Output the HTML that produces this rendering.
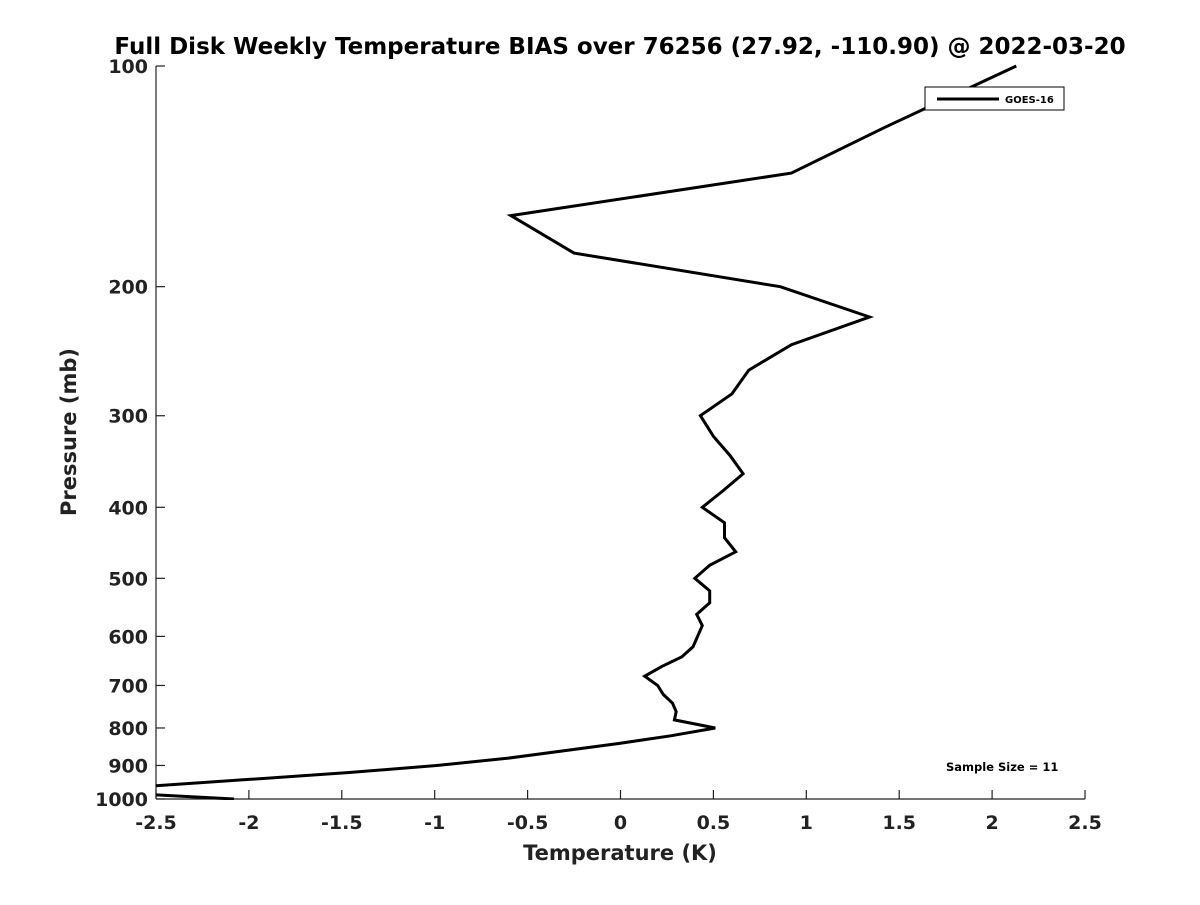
<!DOCTYPE html>
<html><head><meta charset="utf-8"><style>
body{margin:0;background:#fff;}
svg text{font-family:"DejaVu Sans","Liberation Sans",sans-serif;font-weight:bold;}
</style></head><body>
<svg id="chart" width="1200" height="900" xmlns="http://www.w3.org/2000/svg">
<rect width="1200" height="900" fill="#fff"/>
<text x="620" y="54" font-size="23" text-anchor="middle" fill="#000">Full Disk Weekly Temperature BIAS over 76256 (27.92, -110.90) @ 2022-03-20</text>
<g id="axes"></g>
<clipPath id="plotclip"><rect x="156" y="60" width="929" height="740"/></clipPath>
<path id="line" fill="none" stroke="#000" stroke-width="3" stroke-linejoin="miter" clip-path="url(#plotclip)"/>
<text x="620" y="860" font-size="21" text-anchor="middle" fill="#222">Temperature (K)</text>
<text transform="translate(76,432) rotate(-90)" font-size="21" text-anchor="middle" fill="#222">Pressure (mb)</text>
<g>
<rect x="925" y="87" width="139" height="23" fill="#fff" stroke="#000" stroke-width="1"/>
<line x1="937" y1="99" x2="999" y2="99" stroke="#000" stroke-width="3"/>
<text x="1005" y="103" font-size="10" fill="#000">GOES-16</text>
</g>
<text x="946" y="771" font-size="11.5" fill="#000">Sample Size = 11</text>
</svg>
<script>
const pressures=[100,121,140,160,180,200,220,240,260,280,300,320,340,360,380,400,420,440,460,480,500,520,540,560,580,620,640,660,680,700,720,740,760,780,800,820,840,880,900,920,940,975,1000];
const biasValues=[2.13,1.43,0.92,-0.59,-0.25,0.86,1.34,0.92,0.69,0.60,0.43,0.50,0.59,0.66,0.55,0.44,0.56,0.56,0.62,0.48,0.40,0.48,0.48,0.41,0.44,0.39,0.33,0.22,0.13,0.20,0.23,0.28,0.30,0.29,0.51,0.27,-0.01,-0.61,-0.99,-1.46,-1.99,-2.9,-2.08];
const xTicks=[-2.5,-2,-1.5,-1,-0.5,0,0.5,1,1.5,2,2.5];
const yTicks=[100,200,300,400,500,600,700,800,900,1000];
const X0=156,X1=1085,Y0=66,Y1=799;
function xs(v){return X0+(v+2.5)/5*(X1-X0);}
function ys(p){return Y0+Math.log10(p/100)*(Y1-Y0);}
const NS="http://www.w3.org/2000/svg";
const ax=document.getElementById('axes');
function mk(t,a,par){const e=document.createElementNS(NS,t);for(const k in a)e.setAttribute(k,a[k]);(par||ax).appendChild(e);return e;}
const yl=mk('line',{x1:X0,y1:Y0,x2:X0,y2:Y1,stroke:'#222','stroke-width':1.2});


const xl=mk('line',{x1:X0,y1:Y1,x2:X1,y2:Y1,stroke:'#222','stroke-width':1.2});


xTicks.forEach(v=>{
  const x=xs(v);
  const t=mk('line',{x1:x,y1:Y1,x2:x,y2:Y1-9,stroke:'#222','stroke-width':1.2});
  
  
  const l=mk('text',{x:x,y:Y1+30,'font-size':19,'text-anchor':'middle',fill:'#222'});
  l.textContent=String(v);
  
  
});
yTicks.forEach(p=>{
  const y=ys(p);
  const t=mk('line',{x1:X0,y1:y,x2:X0+9,y2:y,stroke:'#222','stroke-width':1.2});
  
  
  const l=mk('text',{x:X0-8,y:y+7,'font-size':19,'text-anchor':'end',fill:'#222'});
  l.textContent=String(p);
  
  
});
let d='';
pressures.forEach((p,i)=>{d+=(i?'L':'M')+xs(biasValues[i]).toFixed(1)+' '+ys(p).toFixed(1)+' ';});
document.getElementById('line').setAttribute('d',d);
</script>
</body></html>
